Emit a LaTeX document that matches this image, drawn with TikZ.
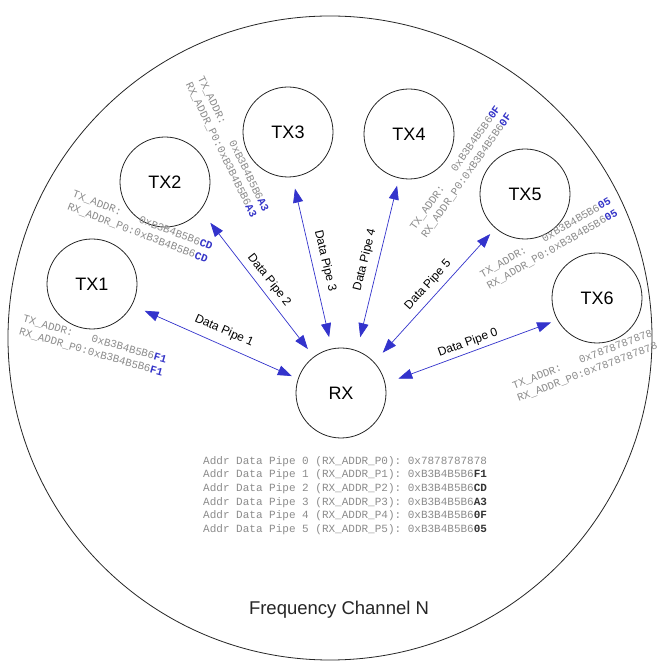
\documentclass[tikz,border=0pt]{standalone}
\usepackage{fontspec}
\setmainfont{Liberation Sans}
\setmonofont{Liberation Mono}
\usetikzlibrary{arrows.meta,calc}
\definecolor{pipeblue}{HTML}{3333CC}
\definecolor{addrgray}{HTML}{8C8C8C}
\definecolor{hlblue}{HTML}{3535C8}
\newcommand\hlb[1]{\textbf{\textcolor{hlblue}{#1}}}
\newcommand\hlk[1]{\textbf{\textcolor{black!80}{#1}}}
\newcommand\gapx{\hphantom{000}}
\begin{document}
\begin{tikzpicture}[x=1pt,y=1pt,
  station/.style={circle, draw=black!85, line width=0.8pt, minimum size=90pt, inner sep=0pt, font=\fontsize{18}{20}\selectfont},
  pipe/.style={draw=pipeblue, line width=0.7pt, arrows={Triangle[length=14pt,width=10pt]-Triangle[length=14pt,width=10pt]}},
  pipelabel/.style={font=\fontsize{12}{14}\selectfont, inner sep=0pt},
  addr/.style={font=\ttfamily\fontsize{10.8}{13.5}\selectfont, text=addrgray, align=right, inner sep=0pt},
]
\useasboundingbox (0,0) rectangle (660,661);
\fill[white] (0,0) rectangle (660,661);
\node[circle, draw=black!85, line width=0.8pt, minimum size=644pt, inner sep=0pt] (chan) at (330,323) {};

\node[station] (TX1) at (92,377) {TX1};
\node[station] (TX2) at (165,479) {TX2};
\node[station] (TX3) at (288,529) {TX3};
\node[station] (TX4) at (409,527) {TX4};
\node[station] (TX5) at (525,467) {TX5};
\node[station] (TX6) at (597,363) {TX6};
\node[station] (RX) at (341,268) {RX};

\draw[pipe] ($(TX1)+(-27:59)$) -- ($(RX)+(161:52)$);
\draw[pipe] ($(TX2)+(-42:61)$) -- ($(RX)+(127:55)$);
\draw[pipe] ($(TX3)+(-83:57)$) -- ($(RX)+(102:57)$);
\draw[pipe] ($(TX4)+(-103:53)$) -- ($(RX)+(71:59)$);
\draw[pipe] ($(TX5)+(-131:53)$) -- ($(RX)+(44:58)$);
\draw[pipe] ($(TX6)+(-152:52)$) -- ($(RX)+(14:59)$);

\node[pipelabel, rotate=-24] (dp1) at (224,330) {Data Pipe 1};
\node[pipelabel, rotate=-52] (dp2) at (269,381) {Data Pipe 2};
\node[pipelabel, rotate=-77] (dp3) at (325,400) {Data Pipe 3};
\node[pipelabel, rotate=76] (dp4) at (365,401) {Data Pipe 4};
\node[pipelabel, rotate=48] (dp5) at (428,376) {Data Pipe 5};
\node[pipelabel, rotate=20] (dp0) at (468,318) {Data Pipe 0};

\node[addr, rotate=-16] (a1) at (93,315) {TX\_ADDR:\gapx 0xB3B4B5B6\hlb{F1}\\RX\_ADDR\_P0:0xB3B4B5B6\hlb{F1}};
\node[addr, rotate=-21] (a2) at (140,434) {TX\_ADDR:\gapx 0xB3B4B5B6\hlb{CD}\\RX\_ADDR\_P0:0xB3B4B5B6\hlb{CD}};
\node[addr, rotate=-64] (a3) at (227,514) {TX\_ADDR:\gapx 0xB3B4B5B6\hlb{A3}\\RX\_ADDR\_P0:0xB3B4B5B6\hlb{A3}};
\node[addr, rotate=55] (a4) at (461,489) {TX\_ADDR:\gapx 0xB3B4B5B6\hlb{0F}\\RX\_ADDR\_P0:0xB3B4B5B6\hlb{0F}};
\node[addr, rotate=30] (a5) at (549,417) {TX\_ADDR:\gapx 0xB3B4B5B6\hlb{05}\\RX\_ADDR\_P0:0xB3B4B5B6\hlb{05}};
\node[addr, rotate=21] (a6) at (585,295) {TX\_ADDR:\gapx 0x7878787878\\RX\_ADDR\_P0:0x7878787878};

\node[addr, align=left, anchor=north west, font=\ttfamily\fontsize{11}{13.7}\selectfont] (table) at (203,205) {%
Addr Data Pipe 0 (RX\_ADDR\_P0): 0x7878787878\\
Addr Data Pipe 1 (RX\_ADDR\_P1): 0xB3B4B5B6\hlk{F1}\\
Addr Data Pipe 2 (RX\_ADDR\_P2): 0xB3B4B5B6\hlk{CD}\\
Addr Data Pipe 3 (RX\_ADDR\_P3): 0xB3B4B5B6\hlk{A3}\\
Addr Data Pipe 4 (RX\_ADDR\_P4): 0xB3B4B5B6\hlk{0F}\\
Addr Data Pipe 5 (RX\_ADDR\_P5): 0xB3B4B5B6\hlk{05}};

\node[font=\fontsize{18.5}{20}\selectfont, text=black!85] (freq) at (339,51) {Frequency Channel N};
\end{tikzpicture}
\end{document}
